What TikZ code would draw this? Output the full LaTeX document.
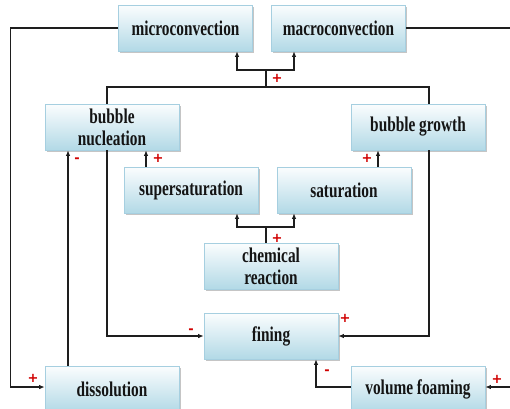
\documentclass[tikz,border=0pt]{standalone}
\usepackage{fontspec}
\setmainfont{Liberation Serif}[FakeStretch=0.73]
\newfontfamily\signfont{DejaVu Sans}
\usetikzlibrary{arrows.meta,shadows,calc}
\definecolor{boxtop}{HTML}{FBFDFE}
\definecolor{boxbot}{HTML}{B2D9E6}
\definecolor{boxline}{HTML}{A6CFE0}
\definecolor{signred}{HTML}{D00000}
\definecolor{linec}{HTML}{1E1E1E}
\definecolor{textc}{HTML}{141414}
\tikzset{
  box/.style={draw=boxline, line width=0.6pt, top color=boxtop, bottom color=boxbot,
    minimum width=134pt, minimum height=46pt, inner sep=1pt, align=center,
    text=textc, font=\fontsize{21}{22}\selectfont\bfseries,
    drop shadow={shadow xshift=1.5pt, shadow yshift=-2pt, fill=black!45, opacity=0.5}},
  conn/.style={draw=linec, line width=1.3pt},
  arr/.style={conn, -{Latex[length=5.5pt,width=4.5pt]}},
  sign/.style={text=signred, font=\signfont\fontsize{13}{13}\selectfont\bfseries, inner sep=0pt}
}
\begin{document}
\begin{tikzpicture}[x=1pt,y=-1pt]
\useasboundingbox (0,0) rectangle (510,408);
\node[box] (micro) at (185.5,28) {microconvection};
\node[box] (macro) at (338.5,28) {macroconvection};
\node[box] (nuc) at (112,127) {bubble\\nucleation};
\node[box] (gro) at (418,127) {bubble growth};
\node[box] (sup) at (191,190) {supersaturation};
\node[box] (sat) at (344,190) {saturation};
\node[box] (chem) at (271,266) {chemical\\reaction};
\node[box] (fin) at (271,336) {fining};
\node[box] (dis) at (112,389) {dissolution};
\node[box] (vf) at (418,389) {volume foaming};

\coordinate (redge) at (512,28);
\coordinate (vedge) at (512,387);
\coordinate (j1) at (266,87);
\coordinate (j2) at (266,70);
\coordinate (j3) at (266,227);

% feedback loops
\draw[arr] (micro.west) -- ++(-108,0) |- ([yshift=2pt]dis.west);
\draw[conn] (macro.east) -- (redge);
\draw[arr] (vedge) -- ([yshift=2pt]vf.east);

% upper tree
\draw[conn] ([xshift=-5pt]nuc.north) |- (j1) -| ([xshift=11pt]gro.north);
\draw[conn] (j1) -- (j2);
\draw[arr] (j2) -| ([xshift=51.5pt]micro.south);
\draw[arr] (j2) -| ([xshift=-44.5pt]macro.south);

% super/saturation
\draw[arr] ([xshift=-45pt]sup.north) -- ([xshift=-45pt]sup.north |- nuc.south);
\draw[arr] ([xshift=34pt]sat.north) -- ([xshift=34pt]sat.north |- gro.south);

% chemical reaction
\draw[conn] ([xshift=-5pt]chem.north) -- (j3);
\draw[arr] (j3) -| ([xshift=46pt]sup.south);
\draw[arr] (j3) -| ([xshift=-50pt]sat.south);

% to fining
\draw[arr] ([xshift=-5pt]nuc.south) |- (fin.west);
\draw[arr] ([xshift=11pt]gro.south) |- (fin.east);
\draw[arr] ([xshift=-44pt]dis.north) -- ([xshift=-44pt]dis.north |- nuc.south);
\draw[arr] ([yshift=2pt]vf.west) -| ([xshift=45pt]fin.south);

% signs
\node[sign] (s1) at (277,78) {+};
\node[sign] (s2) at (158,158) {+};
\node[sign] (s3) at (367,158) {+};
\node[sign] (s4) at (277,238) {+};
\node[sign] (s5) at (191,331) {-};
\node[sign] (s6) at (345,318) {+};
\node[sign] (s7) at (77,160) {-};
\node[sign] (s8) at (33,378) {+};
\node[sign] (s9) at (327,372) {-};
\node[sign] (s10) at (497,379) {+};
\end{tikzpicture}
\end{document}
